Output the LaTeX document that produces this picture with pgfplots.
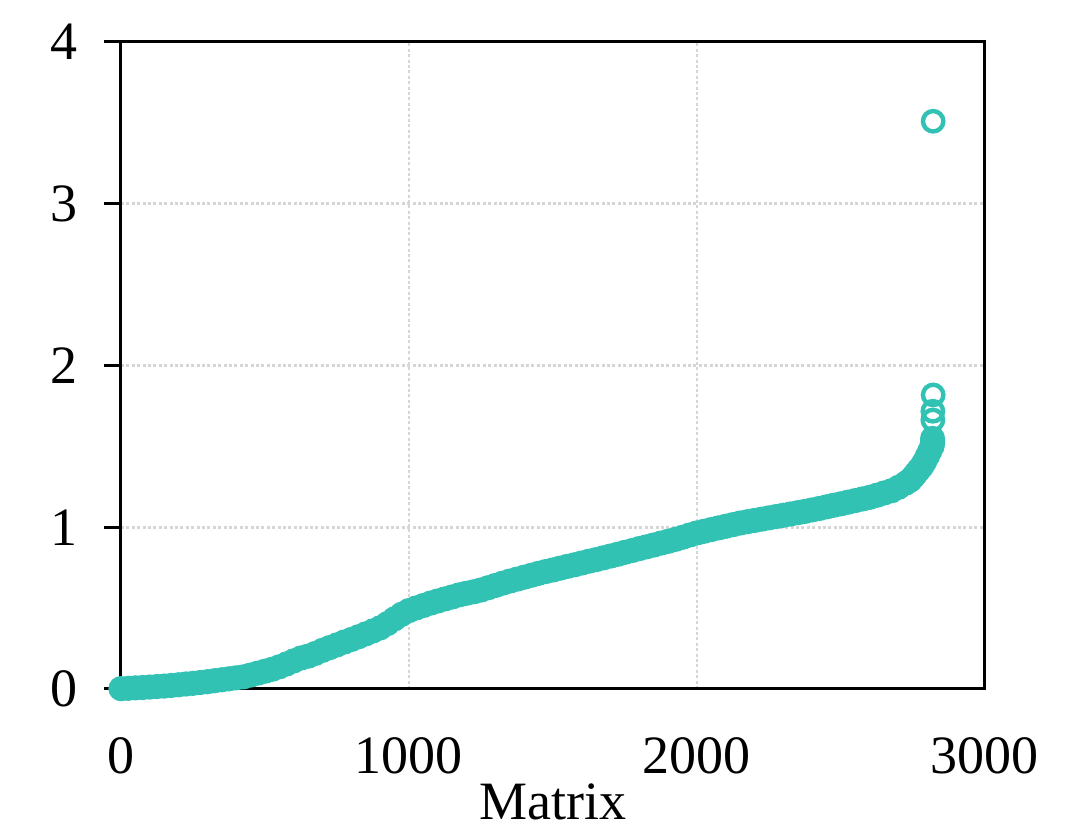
\documentclass[border=0pt]{standalone}
\usepackage{pgfplots}
\pgfplotsset{compat=1.18}
\usepackage{pgfplotstable}
\usepackage{fontspec}
\setmainfont{Liberation Serif}
\definecolor{teal}{RGB}{50,194,180}
\definecolor{gridgray}{RGB}{214,214,214}

\pgfplotstableread{
x y
0 0.002
25 0.004
50 0.007
75 0.009
100 0.012
125 0.015
150 0.018
175 0.022
200 0.026
225 0.031
250 0.035
275 0.040
300 0.045
325 0.051
350 0.057
375 0.063
400 0.069
425 0.075
450 0.086
475 0.098
500 0.110
525 0.122
550 0.137
575 0.155
600 0.174
625 0.192
650 0.203
675 0.220
700 0.239
725 0.256
750 0.273
775 0.290
800 0.306
825 0.323
850 0.341
875 0.359
900 0.378
925 0.404
950 0.434
975 0.462
1000 0.485
1025 0.501
1050 0.516
1075 0.531
1100 0.544
1125 0.557
1150 0.569
1175 0.582
1200 0.592
1225 0.601
1250 0.612
1275 0.626
1300 0.640
1325 0.654
1350 0.667
1375 0.679
1400 0.691
1425 0.703
1450 0.715
1475 0.726
1500 0.736
1525 0.747
1550 0.758
1575 0.768
1600 0.779
1625 0.790
1650 0.800
1675 0.811
1700 0.822
1725 0.833
1750 0.845
1775 0.856
1800 0.868
1825 0.879
1850 0.890
1875 0.902
1900 0.913
1925 0.925
1950 0.938
1975 0.952
2000 0.965
2025 0.975
2050 0.986
2075 0.996
2100 1.006
2125 1.016
2150 1.026
2175 1.034
2200 1.042
2225 1.050
2250 1.058
2275 1.066
2300 1.074
2325 1.082
2350 1.090
2375 1.098
2400 1.107
2425 1.116
2450 1.126
2475 1.136
2500 1.145
2525 1.155
2550 1.165
2575 1.175
2600 1.185
2625 1.198
2650 1.212
2675 1.225
2700 1.247
2725 1.273
2740 1.290
2750 1.310
2760 1.332
2770 1.354
2780 1.376
2790 1.405
2800 1.440
2808 1.470
2816 1.500
2817 1.515
2818 1.530
}\banddata

\pgfplotstableread{
x y
2818 1.550
2819 1.663
2819 1.717
2820 1.818
2820 3.510
}\topdata

\begin{document}
\begin{tikzpicture}
\path[use as bounding box] (-60.5pt,-74.5pt) rectangle (484pt,344.5pt);
\begin{axis}[
  at={(0pt,0pt)}, anchor=south west,
  scale only axis,
  width=432pt, height=323.5pt,
  xmin=0, xmax=3000, ymin=0, ymax=4,
  xtick={0,1000,2000,3000},
  ytick={0,1,2,3,4},
  clip=false,
  grid=major,
  grid style={dash pattern=on 1.5pt off 1.2pt, line width=1.4pt, color=gridgray},
  axis line style={line width=1.5pt, black},
  every outer x axis line/.append style={line width=1.5pt},
  every outer y axis line/.append style={line width=1.5pt},
  tick align=outside,
  major tick length=8.5pt,
  ytick pos=left,
  xtick style={draw=none},
  ytick style={line width=1.5pt, black},
  /pgf/number format/assume math mode=true,
  scaled x ticks=false,
  xticklabel={\pgfmathprintnumber[1000 sep={}]{\tick}},
  tick label style={font=\fontsize{27}{32}\selectfont},
  xticklabel style={anchor=base, inner sep=0pt, yshift=-34pt},
  yticklabel style={anchor=east, inner sep=0pt, xshift=-13pt},
  xlabel={Matrix},
  xlabel style={font=\fontsize{27}{32}\selectfont, at={(axis description cs:0.5,0)}, anchor=base, inner sep=0pt, yshift=-65.5pt},
]
\addplot[color=teal, only marks, mark=*, mark size=5.6pt, mark options={line width=1.4pt, draw=teal, fill=teal}] table[x=x,y=y] {\banddata};
\addplot[color=teal, only marks, mark=o, line width=2.2pt, mark size=5.1pt, every mark/.append style={line width=2.2pt}, mark options={line width=2.2pt, draw=teal}] table[x=x,y=y] {\topdata};
\end{axis}
\end{tikzpicture}
\end{document}
